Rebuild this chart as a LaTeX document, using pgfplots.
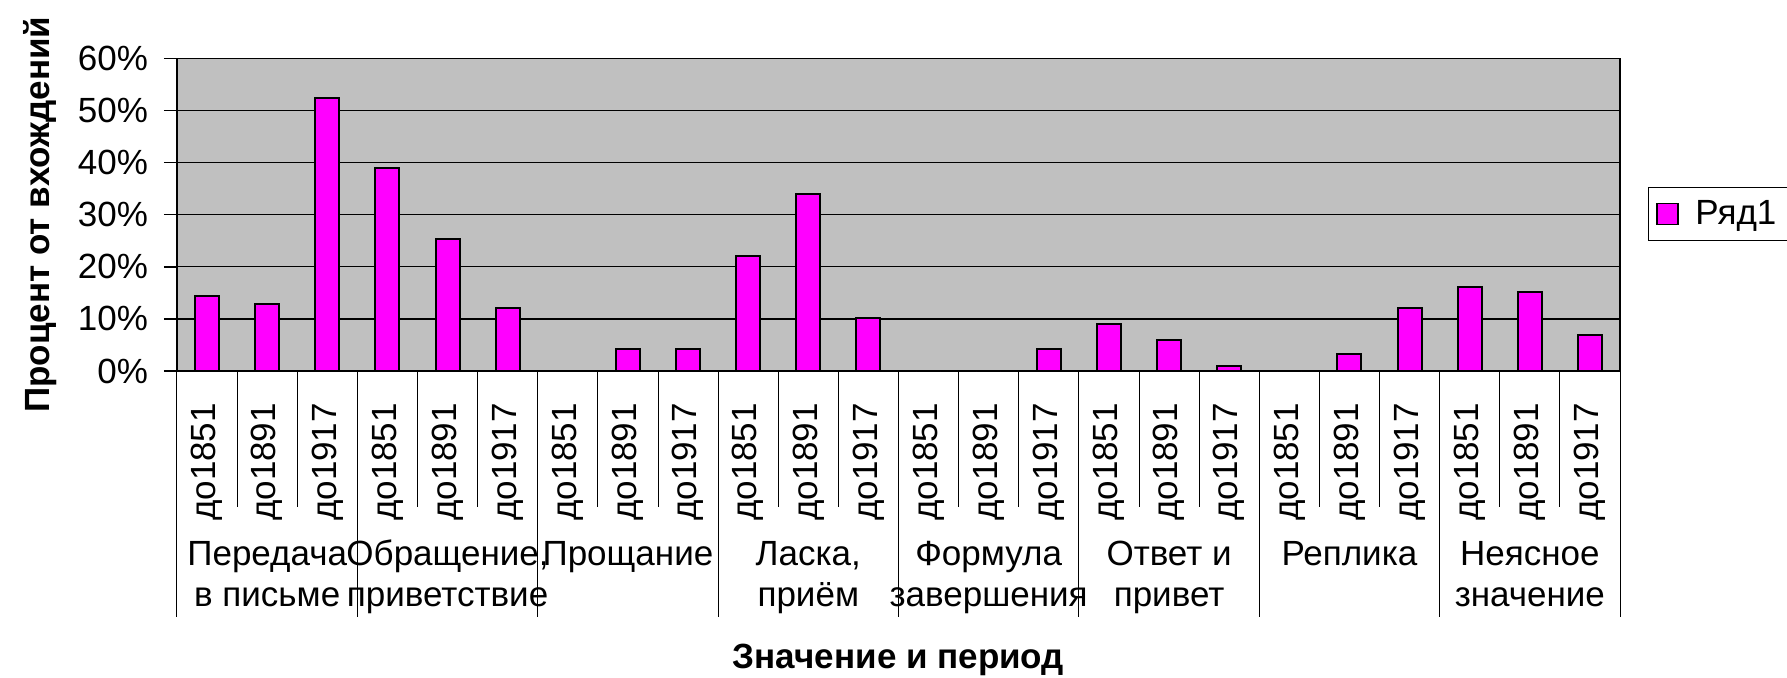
\documentclass[border=0pt]{standalone}
\usepackage{fontspec}
\setmainfont{Liberation Sans}
\usepackage{pgfplots}
\pgfplotsset{compat=1.18}
\definecolor{plotbg}{HTML}{C0C0C0}
\definecolor{barfill}{HTML}{FF00FF}
\begin{document}
\begin{tikzpicture}[font=\fontsize{14}{16.4}\selectfont]
\begin{axis}[
  scale only axis, width=577.2pt, height=125.1pt,
  at={(0,0)}, anchor=south west,
  xmin=0.5, xmax=24.5, ymin=0, ymax=60,
  axis background/.style={fill=plotbg},
  axis line style={black, line width=0.6pt},
  ytick={0,10,...,60},
  ytick pos=left,
  /pgf/number format/assume math mode=true,
  yticklabel={\pgfmathprintnumber{\tick}\%},
  yticklabel style={xshift=-2.9pt},
  ymajorgrids, grid style={black, line width=0.5pt},
  tick align=outside, major tick length=5.2pt,
  ytick style={black, line width=0.6pt},
  xtick={1,...,24},
  xtick style={draw=none},
  xticklabels={до1851,до1891,до1917,до1851,до1891,до1917,до1851,до1891,до1917,до1851,до1891,до1917,до1851,до1891,до1917,до1851,до1891,до1917,до1851,до1891,до1917,до1851,до1891,до1917},
  xticklabel style={rotate=90, anchor=east},
  xticklabel shift=4.1pt,
  tick label style={font=\fontsize{14}{16.8}\selectfont},
  label style={font=\bfseries\fontsize{14}{16.8}\selectfont},
  xlabel={Значение и период},
  xlabel style={at={([yshift=-118.8pt]axis description cs:0.5,0)}, anchor=base},
  ylabel={Процент от вхождений},
  ylabel style={at={([xshift=-50.8pt]axis description cs:0,0.5)}, anchor=base, rotate=0},
  legend style={at={(axis description cs:1.0194,0.588)}, anchor=north west,
    draw=black, line width=0.5pt, fill=white, inner xsep=3pt, inner ysep=3pt,
    font=\fontsize{14}{16.8}\selectfont, legend cell align=left},
  clip=false,
]
\addplot[ybar, bar width=9.6pt, fill=barfill, draw=black, line width=0.8pt,
  legend image code/.code={\draw[fill=barfill, draw=black, line width=0.6pt] (0pt,-4.2pt) rectangle (8.4pt,4.2pt); \path (13pt,0pt);}]
  coordinates {
  (1,14.3) (2,12.9) (3,52.3)
  (4,39.0) (5,25.3) (6,12.0)
  (7,0) (8,4.2) (9,4.2)
  (10,22.1) (11,34.0) (12,10.2)
  (13,0) (14,0) (15,4.2)
  (16,9.1) (17,6.0) (18,1.0)
  (19,0) (20,3.3) (21,12.0)
  (22,16.1) (23,15.2) (24,6.9)
  };
\addlegendentry{Ряд1}
\pgfplotsinvokeforeach{1.5,2.5,4.5,5.5,7.5,8.5,10.5,11.5,13.5,14.5,16.5,17.5,19.5,20.5,22.5,23.5}{
  \draw[black, line width=0.4pt] (axis cs:#1,0) -- ++(0pt,-54.4pt);
}
\pgfplotsinvokeforeach{0.5,3.5,6.5,9.5,12.5,15.5,18.5,21.5,24.5}{
  \draw[black, line width=0.4pt] (axis cs:#1,0) -- ++(0pt,-98.4pt);
}
\node[anchor=base] at ([yshift=-77.6pt]axis cs:2,0) {Передача};
\node[anchor=base] at ([yshift=-94pt]axis cs:2,0) {в письме};
\node[anchor=base] at ([yshift=-77.6pt]axis cs:5,0) {Обращение,};
\node[anchor=base] at ([yshift=-94pt]axis cs:5,0) {приветствие};
\node[anchor=base] at ([yshift=-77.6pt]axis cs:8,0) {Прощание};
\node[anchor=base] at ([yshift=-77.6pt]axis cs:11,0) {Ласка,};
\node[anchor=base] at ([yshift=-94pt]axis cs:11,0) {приём};
\node[anchor=base] at ([yshift=-77.6pt]axis cs:14,0) {Формула};
\node[anchor=base] at ([yshift=-94pt]axis cs:14,0) {завершения};
\node[anchor=base] at ([yshift=-77.6pt]axis cs:17,0) {Ответ и};
\node[anchor=base] at ([yshift=-94pt]axis cs:17,0) {привет};
\node[anchor=base] at ([yshift=-77.6pt]axis cs:20,0) {Реплика};
\node[anchor=base] at ([yshift=-77.6pt]axis cs:23,0) {Неясное};
\node[anchor=base] at ([yshift=-94pt]axis cs:23,0) {значение};
\end{axis}
\pgfresetboundingbox
\path[use as bounding box] (-70.8pt,-122.4pt) rectangle (644pt,148.4pt);
\end{tikzpicture}
\end{document}
